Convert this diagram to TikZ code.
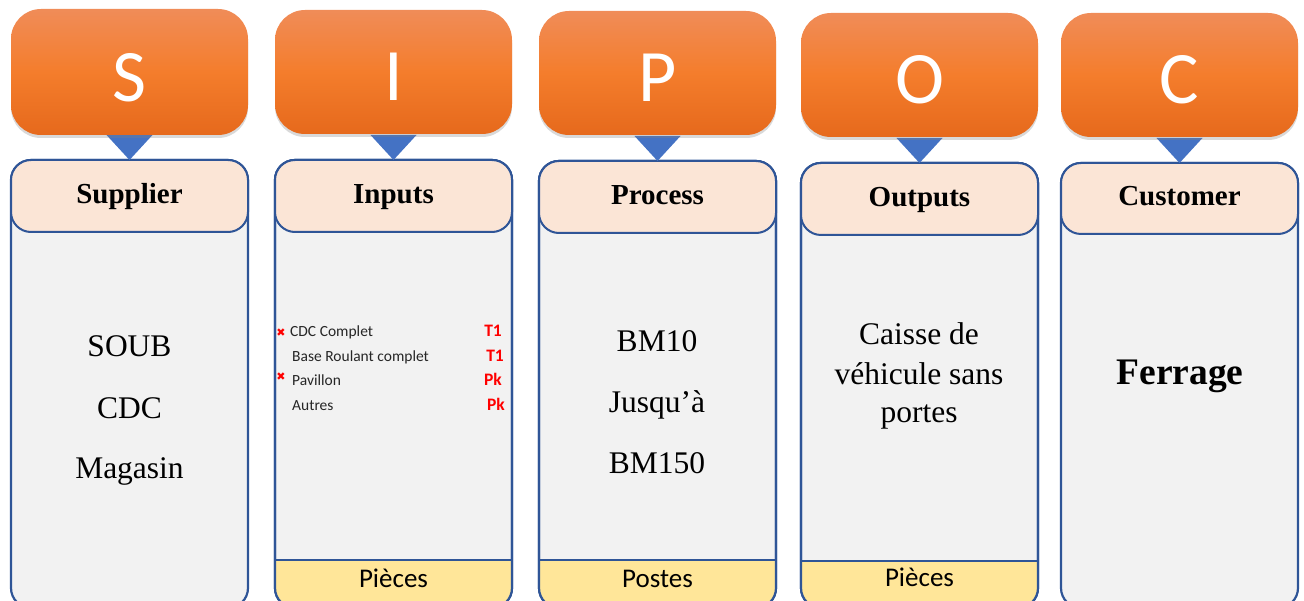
\documentclass[tikz,border=0pt]{standalone}
\usepackage{fontspec}
\setmainfont{Liberation Serif}
\newfontfamily\calib{Carlito}
\newfontfamily\dejavu{DejaVu Sans}
\usetikzlibrary{shadows,calc}
\definecolor{orgtop}{HTML}{F08C58}
\definecolor{orgmid}{HTML}{F47D2C}
\definecolor{orgbot}{HTML}{E6691C}
\definecolor{bord}{HTML}{2F5597}
\definecolor{hdr}{HTML}{FBE5D6}
\definecolor{pnl}{HTML}{F2F2F2}
\definecolor{ylw}{HTML}{FFE699}
\definecolor{tri}{HTML}{4472C4}
\definecolor{redc}{HTML}{FF0000}
\tikzset{
  panel/.style={rectangle, rounded corners=20pt, draw=bord, line width=2.2pt, fill=pnl, minimum width=237pt, inner sep=0pt, outer sep=0pt, anchor=north west},
  pborder/.style={draw=bord, line width=2.2pt, rounded corners=20pt},
  hdrbox/.style={rectangle, rounded corners=20pt, draw=bord, line width=2pt, fill=hdr, minimum width=237pt, inner sep=0pt, outer sep=0pt, anchor=north west},
  orgbox/.style={rectangle, rounded corners=30pt, top color=orgtop, bottom color=orgbot, middle color=orgmid, minimum width=237pt, inner sep=0pt, outer sep=0pt, anchor=north west, drop shadow={shadow xshift=0pt, shadow yshift=-3pt, opacity=0.3}},
  tristyle/.style={fill=tri},
  letterst/.style={inner sep=0pt, anchor=base, text=white, font=\calib\fontsize{74}{74}\selectfont},
  hdrtxt/.style={inner sep=0pt, anchor=base, font=\bfseries\fontsize{29}{29}\selectfont},
  bodytxt/.style={inner sep=0pt, anchor=base, font=\fontsize{31.5}{31.5}\selectfont},
  bigbold/.style={inner sep=0pt, anchor=base, font=\bfseries\fontsize{37.5}{37.5}\selectfont},
  listtxt/.style={inner sep=0pt, anchor=base west, text=black!85, font=\calib\fontsize{15.5}{15.5}\selectfont},
  redtxt/.style={inner sep=0pt, anchor=base east, text=redc, font=\calib\bfseries\fontsize{17.5}{17.5}\selectfont},
  xmark/.style={inner sep=0pt, anchor=center, text=redc, font=\dejavu\fontsize{11}{11}\selectfont},
  ybox/.style={fill=ylw},
  ytop/.style={draw=bord, line width=1.5pt},
  foottxt/.style={inner sep=0pt, anchor=base, font=\calib\fontsize{27}{27}\selectfont},
}
% #1 id, #2 x1, #3 orange top, #4 orange bottom, #5 panel top, #6 header bottom, #7 letter, #8 header text
\newcommand\mycol[8]{%
  \node[panel, minimum height={608-#5}] (p#1) at (#2,#5) {};
}
\newcommand\mycoltop[8]{%
  \node[hdrbox, minimum height={#6-#5}] (h#1) at (#2,#5) {};
  \node[hdrtxt] (ht#1) at ($(h#1.south)+(0,-28)$) {#8};
  \fill[tristyle] ($(p#1.north)+(-23,-25)$) -- ($(p#1.north)+(23,-25)$) -- (p#1.north) -- cycle;
  \node[orgbox, minimum height={#4-#3}] (o#1) at (#2,#3) {};
  \node[letterst] (l#1) at ($(o#1.south)+(0,-33)$) {#7};
}
\newcommand\myyellow[3]{% #1 id, #2 x1, #3 yellow top
  \coordinate (yt#1) at (#2,#3);
  \fill[ybox] (yt#1) rectangle ($(yt#1 -| p#1.east)+(0,30)$);
  \fill[ybox, rounded corners=20pt] (yt#1) rectangle (p#1.south east);
  \draw[pborder] (p#1.north west) rectangle (p#1.south east);
  \draw[ytop] (yt#1) -- (yt#1 -| p#1.east);
}
\begin{document}
\begin{tikzpicture}[x=1pt,y=-1pt]
\useasboundingbox (0,0) rectangle (1304,601);
\clip (0,0) rectangle (1304,601);
\mycol{1}{11}{9}{135}{160}{232}{S}{Supplier}
\mycol{2}{275}{10}{134}{160}{232}{I}{Inputs}
\mycol{3}{539}{11}{135}{161}{233}{P}{Process}
\mycol{4}{801}{13}{137}{163}{235}{O}{Outputs}
\mycol{5}{1061}{13}{137}{163}{234}{C}{Customer}
\myyellow{2}{275}{560}
\myyellow{3}{539}{560}
\myyellow{4}{801}{561}
\mycoltop{1}{11}{9}{135}{160}{232}{S}{Supplier}
\mycoltop{2}{275}{10}{134}{160}{232}{I}{Inputs}
\mycoltop{3}{539}{11}{135}{161}{233}{P}{Process}
\mycoltop{4}{801}{13}{137}{163}{235}{O}{Outputs}
\mycoltop{5}{1061}{13}{137}{163}{234}{C}{Customer}
% Supplier body
\node[bodytxt] (s1) at (129.5,357) {SOUB};
\node[bodytxt] (s2) at (129.5,418) {CDC};
\node[bodytxt] (s3) at (129.5,478) {Magasin};
% Inputs body
\node[listtxt] (i1) at (290,337) {CDC Complet};
\node[listtxt] (i2) at (292,362) {Base Roulant complet};
\node[listtxt] (i3) at (292,386) {Pavillon};
\node[listtxt] (i4) at (292,410) {Autres};
\node[redtxt] (r1) at (502,337) {T1};
\node[redtxt] (r2) at (504,362) {T1};
\node[redtxt] (r3) at (502,386) {Pk};
\node[redtxt] (r4) at (505,410) {Pk};
\node[xmark] (x1) at (281,333) {✖};
\node[xmark] (x3) at (281,377) {✖};
% Process body
\node[bodytxt] (pr1) at (657,352) {BM10};
\node[bodytxt] (pr2) at (657,413) {Jusqu’à};
\node[bodytxt] (pr3) at (657,473) {BM150};
% Outputs body
\node[bodytxt] (ou1) at (919,345) {Caisse de};
\node[bodytxt] (ou2) at (919,385) {véhicule sans};
\node[bodytxt] (ou3) at (919,423) {portes};
% Customer body
\node[bigbold] (cu1) at (1180,385) {Ferrage};
% footers
\node[foottxt] (f2) at (393.5,587) {Pièces};
\node[foottxt] (f3) at (657.5,587) {Postes};
\node[foottxt] (f4) at (919.5,586) {Pièces};
\end{tikzpicture}
\end{document}
